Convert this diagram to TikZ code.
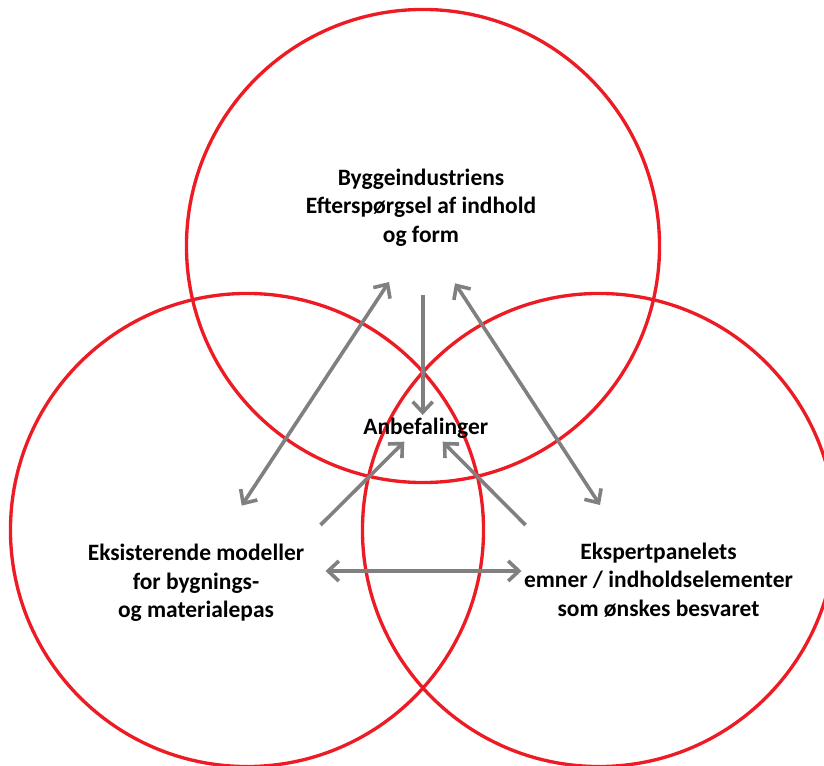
\documentclass[tikz,border=0pt]{standalone}
\usepackage{fontspec}
\setmainfont{Carlito}
\usetikzlibrary{arrows.meta}

\definecolor{vennred}{RGB}{237,28,36}
\definecolor{arrowgray}{RGB}{128,128,128}

\tikzset{
  ring/.style={draw=vennred, line width=2.5pt},
  flow/.style={draw=arrowgray, line width=2.7pt, -{Straight Barb[length=8pt,width=15pt]}},
  twoway/.style={flow, {Straight Barb[length=8pt,width=15pt]}-{Straight Barb[length=8pt,width=15pt]}},
  label/.style={align=center, inner sep=0pt, font=\fontsize{17.6}{21.4}\selectfont\bfseries}
}

\begin{document}
\begin{tikzpicture}[x=0.75pt,y=-0.75pt]

%\draw[help lines] (0,0) grid (824,766);
\useasboundingbox (0,0) rectangle (824,766);

%% the three circles
\draw [ring] (423,246) circle [radius=177.4pt];
\draw [ring] (247,530) circle [radius=177.4pt];
\draw [ring] (599,530) circle [radius=177.4pt];

%% texts
\node [label] (byg) at (421,207.5) {Byggeindustriens\\Efterspørgsel af indhold\\og form};
\node [label] (anb) at (425.7,428) {Anbefalinger};
\node [label] (eks) at (196,583) {Eksisterende modeller\\for bygnings-\\og materialepas};
\node [label] (pan) at (658.5,580) {Ekspertpanelets\\emner / indholdselementer\\som ønskes besvaret};

%% arrow ends
\coordinate (bygL) at (389,282);
\coordinate (bygR) at (455,283.3);
\coordinate (bygB) at (422.7,295);
\coordinate (anbT) at (422.7,415);
\coordinate (anbL) at (404.3,441.7);
\coordinate (anbR) at (442.7,441.7);
\coordinate (eksT) at (241.7,505.6);
\coordinate (eksC) at (320.5,525);
\coordinate (eksR) at (325.5,571);
\coordinate (panT) at (600,505);
\coordinate (panC) at (525.5,525);
\coordinate (panL) at (521.5,571);

%% top <-> sides
\draw [twoway] (eksT) -- (bygL);
\draw [twoway] (panT) -- (bygR);

%% towards Anbefalinger
\draw [flow] (bygB) -- (anbT);
\draw [flow] (eksC) -- (anbL);
\draw [flow] (panC) -- (anbR);

%% between the lower circles
\draw [twoway] (eksR) -- (panL);

\end{tikzpicture}
\end{document}
